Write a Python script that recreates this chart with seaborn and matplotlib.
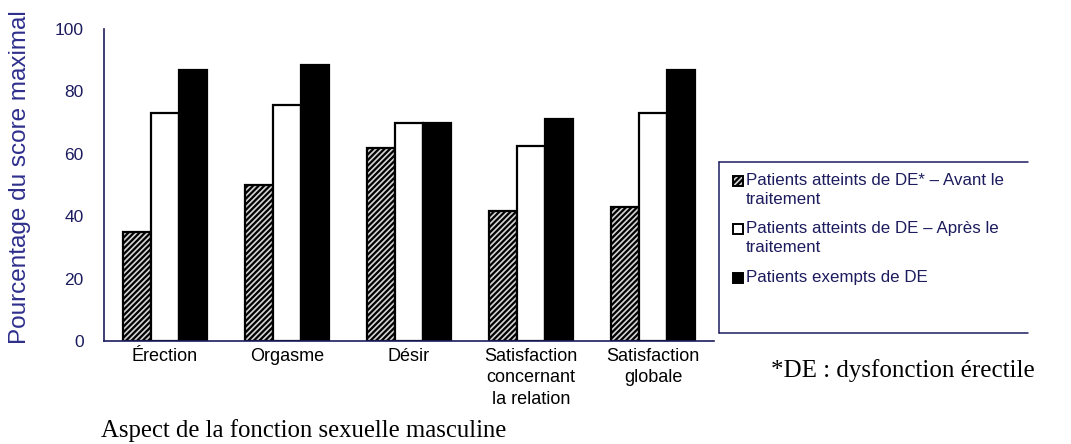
import matplotlib
matplotlib.use("Agg")
import matplotlib.pyplot as plt
import seaborn as sns
import pandas as pd
from matplotlib.patches import Rectangle
from matplotlib.lines import Line2D

categories = ["Érection", "Orgasme", "Désir",
              "Satisfaction\nconcernant\nla relation", "Satisfaction\nglobale"]
series_names = ["Patients atteints de DE* – Avant le\ntraitement",
                "Patients atteints de DE – Après le\ntraitement",
                "Patients exempts de DE"]
avant = [35, 50, 62, 41.5, 43]
apres = [73, 75.5, 70, 62.5, 73]
exempts = [87, 88.5, 70, 71, 87]
yticks = [0, 20, 40, 60, 80, 100]

sns.set_theme(style="white")
plt.rcParams['font.family'] = ['Liberation Sans', 'DejaVu Sans']
plt.rcParams['hatch.linewidth'] = 1.6

navy = "#1c1c5e"

rows = []
for name, vals in zip(series_names, [avant, apres, exempts]):
    for c, v in zip(categories, vals):
        rows.append({"cat": c, "serie": name, "val": v})
df = pd.DataFrame(rows)

fig = plt.figure(figsize=(10.71, 4.44), dpi=100)
ax = fig.add_axes([0.0971, 0.232, 0.5696, 0.7028])

palette = {series_names[0]: "white", series_names[1]: "white", series_names[2]: "black"}
sns.barplot(data=df, x="cat", y="val", hue="serie", order=categories,
            hue_order=series_names, palette=palette, width=0.69,
            edgecolor="black", linewidth=1.6, saturation=1, legend=False, ax=ax)
for bar in ax.containers[0]:
    bar.set_hatch("//////")
    bar.set_facecolor("#d4d4d4")

ax.set_xlim(-0.5, 4.5)
ax.set_ylim(0, 100)
ax.set_yticks(yticks)
ax.set_yticklabels([str(t) for t in yticks], color=navy, fontsize=12.5)
ax.set_xticks(range(len(categories)))
ax.set_xticklabels(categories, fontsize=13, color="black", linespacing=1.35)
ax.set_xticks([0.5, 1.5, 2.5, 3.5, 4.5], minor=True)
ax.tick_params(axis="x", which="major", length=0, pad=5)
ax.tick_params(axis="x", which="minor", length=7, direction="inout", color=navy, width=1)
ax.tick_params(axis="y", length=7, direction="inout", color=navy, width=1, pad=11)
ax.set_xlabel("")
ax.set_ylabel("Pourcentage du score maximal", fontsize=17.5, color="#2e2e8c")
ax.yaxis.label.set_va("center")
ax.yaxis.set_label_coords(-0.137, 0.526)
for s in ["top", "right"]:
    ax.spines[s].set_visible(False)
for s in ["left", "bottom"]:
    ax.spines[s].set_color(navy)
    ax.spines[s].set_linewidth(1.2)

W, H = 1071, 444
def fx(px):
    return px / W
def fy(py):
    return 1 - py / H

# legend box (left, top, bottom edges)
for (x0, y0, x1, y1) in [(719, 162, 719, 333), (719, 162, 1028, 162), (719, 333, 1028, 333)]:
    fig.add_artist(Line2D([fx(x0), fx(x1)], [fy(y0), fy(y1)], color=navy, lw=1.1))

legend_y = [181, 229, 278]
styles = [dict(facecolor="#d4d4d4", hatch="//////"), dict(facecolor="white"), dict(facecolor="black")]
for yy, name, st in zip(legend_y, series_names, styles):
    fig.add_artist(Rectangle((fx(733), fy(yy + 5)), fx(743) - fx(733), fy(yy - 5) - fy(yy + 5),
                             transform=fig.transFigure, edgecolor="black", linewidth=1.4, **st))
    fig.text(fx(746), fy(yy - 8), name, ha="left", va="top", fontsize=12.2, color=navy,
             linespacing=1.3, transform=fig.transFigure)

fig.text(fx(771), fy(377), "*DE : dysfonction érectile", ha="left", va="baseline",
         fontsize=18, family="Liberation Serif", color="black")
fig.text(fx(101), fy(437), "Aspect de la fonction sexuelle masculine", ha="left", va="baseline",
         fontsize=17.8, family="Liberation Serif", color="black")

fig.savefig("out.png", dpi=100)
